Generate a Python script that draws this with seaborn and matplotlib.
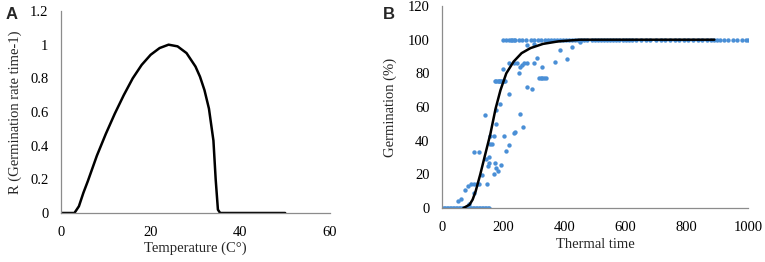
import numpy as np
import pandas as pd
import matplotlib
matplotlib.use("Agg")
import matplotlib.pyplot as plt
import seaborn as sns

# panel A: temperature response curve
temp = [0, 3, 4, 5, 6, 8, 10, 12, 14, 16, 18, 20, 22, 24, 26, 28, 30, 31, 32, 33, 34, 34.5, 35, 35.5, 40, 50]
rate = [0, 0, 0.04, 0.12, 0.19, 0.34, 0.47, 0.59, 0.70, 0.80, 0.88, 0.94, 0.98, 1.0, 0.99, 0.95, 0.87, 0.81,
        0.73, 0.62, 0.43, 0.2, 0.02, 0, 0, 0]

# panel B: fitted curve
fit_tt = [70, 90, 100, 110, 125, 140, 158, 175, 191, 210, 234, 260, 289, 330, 380, 450, 600, 890]
fit_g = [0, 2, 5, 10, 20, 31, 44, 59, 70, 80, 87, 92, 95, 97.5, 99, 100, 100, 100]

# panel B: observed points
obs_zero_tt = [0, 5, 10, 15, 20, 25, 30, 35, 40, 45, 50, 55, 60, 65, 70, 75, 80, 85, 90, 95, 100, 105, 110,
               115, 120, 125, 130, 135, 140, 145, 150, 155]
obs_full_tt = [200, 210, 220, 225, 230, 235, 240, 250, 262, 275, 290, 300, 315, 325, 335, 345, 355, 365, 375,
               385, 395, 405, 415, 425, 435, 445, 455, 465, 475, 490, 500, 510, 520, 530, 540, 550, 560, 570,
               580, 590, 600, 610, 620, 635, 650, 665, 680, 700, 715, 730, 745, 760, 775, 790, 805, 820, 835,
               850, 865, 880, 890, 900, 910, 920, 935, 950, 965, 980, 995, 1000]
obs_mid_tt = [51, 62, 76, 84, 95, 106, 114, 122, 131, 147, 103, 87, 106, 122, 142, 145, 153, 149, 155, 158,
              163, 158, 169, 172, 178, 182, 194, 171, 175, 175, 191, 201, 210, 219, 234, 237, 256, 265, 218,
              199, 174, 178, 182, 186, 190, 194, 198, 203, 207, 218, 234, 251, 267, 278, 300, 311, 327, 316,
              322, 328, 334, 340, 278, 294, 278, 300, 370, 387, 409, 425, 452, 263, 256, 245]
obs_mid_g = [4, 5.6, 11, 13, 14.5, 14.5, 14.5, 14.5, 19.5, 14.5, 9, 2.6, 33, 33, 55, 29, 30.5, 25, 26.5, 38,
             38, 43, 43, 27, 23.5, 22, 25.7, 20.5, 50, 58, 62, 43, 34, 37.6, 44.6, 45.4, 56, 48, 68,
             82.6, 75.6, 75.6, 75.6, 75.6, 75.6, 75.6, 75.6, 75.6, 75.6, 86, 86, 80, 86, 86, 86, 89, 84, 77,
             77, 77, 77, 77, 72, 71, 97, 97.7, 87, 94, 88.5, 95.5, 98.5, 85, 84, 86]

sns.set_style("white")
plt.rcParams["font.family"] = ["Liberation Serif", "DejaVu Serif"]

blue = "#4a8fd6"
axis_grey = "#8c8c8c"

fig = plt.figure(figsize=(7.65, 2.62), dpi=100)
ax1 = fig.add_axes([0.0797, 0.187, 0.3517, 0.771])
ax2 = fig.add_axes([0.5778, 0.206, 0.4, 0.771])

# panel A
dfa = pd.DataFrame({"T": temp, "R": rate})
sns.lineplot(data=dfa, x="T", y="R", ax=ax1, color="black", linewidth=1.8, sort=False)
ax1.set_xlim(0, 60)
ax1.set_ylim(0, 1.2)
ax1.set_xticks([0, 20, 40, 60])
ax1.set_yticks([0, 0.2, 0.4, 0.6, 0.8, 1.0, 1.2])
ax1.set_yticklabels(["0", "0.2", "0.4", "0.6", "0.8", "1", "1.2"])
ax1.set_xlabel("Temperature (C°)", fontsize=10.5, labelpad=2)
ax1.set_ylabel("R (Germination rate time-1)", fontsize=10.5, labelpad=6)

# panel B
dfb_obs = pd.DataFrame({
    "tt": obs_zero_tt + obs_full_tt + obs_mid_tt,
    "g": [0] * len(obs_zero_tt) + [100] * len(obs_full_tt) + obs_mid_g,
})
sns.scatterplot(data=dfb_obs, x="tt", y="g", ax=ax2, color=blue, s=10, linewidth=0, zorder=2)
dfb_fit = pd.DataFrame({"tt": fit_tt, "g": fit_g})
sns.lineplot(data=dfb_fit, x="tt", y="g", ax=ax2, color="black", linewidth=1.8, zorder=3)
ax2.set_xlim(0, 1000)
ax2.set_ylim(0, 120)
ax2.set_xticks([0, 200, 400, 600, 800, 1000])
ax2.set_yticks([0, 20, 40, 60, 80, 100, 120])
ax2.set_xlabel("Thermal time", fontsize=10.5, labelpad=3)
ax2.set_ylabel("Germination (%)", fontsize=10.5, labelpad=8)

for ax in (ax1, ax2):
    for side in ("top", "right"):
        ax.spines[side].set_visible(False)
    for side in ("left", "bottom"):
        ax.spines[side].set_color(axis_grey)
        ax.spines[side].set_linewidth(0.9)
    ax.tick_params(axis="both", length=0, labelsize=10.5, colors="black")
    ax.tick_params(axis="x", pad=9)
    ax.tick_params(axis="y", pad=9)
    for s in ax.spines.values():
        s.set_clip_on(False)

fig.text(0.007, 0.975, "A", fontsize=12, fontweight="bold", family="Liberation Sans", va="top")
fig.text(0.500, 0.975, "B", fontsize=12, fontweight="bold", family="Liberation Sans", va="top")

fig.savefig("out.png", dpi=100)
